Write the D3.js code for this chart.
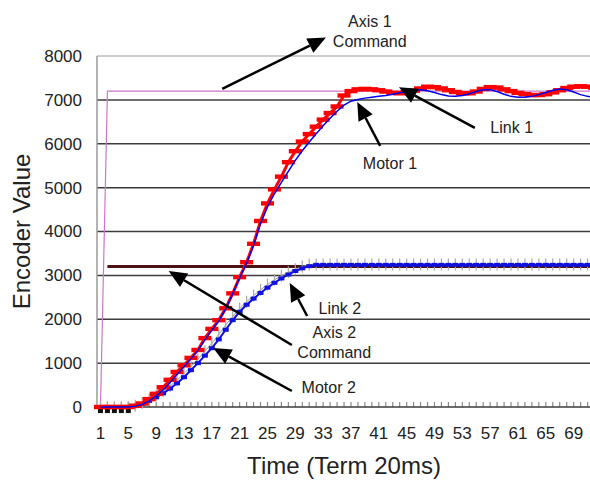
<!DOCTYPE html>
<html>
<head>
<meta charset="utf-8">
<script src="https://cdn.jsdelivr.net/npm/d3@7"></script>
<style>
  body { margin: 0; background: #fff; }
  text { font-family: "Liberation Sans", Arial, Helvetica, sans-serif; fill: #222; }
</style>
</head>
<body>
<div id="container"></div>
<script>
// categories along the bottom (Time, Term 20ms) - the chart runs past the right edge
const categories = d3.range(1, 73)
const yTicks = [0, 1000, 2000, 3000, 4000, 5000, 6000, 7000, 8000]

const axis1Command = [0, 7200, 7200, 7200, 7200, 7200, 7200, 7200, 7200, 7200,
    7200, 7200, 7200, 7200, 7200, 7200, 7200, 7200, 7200, 7200,
    7200, 7200, 7200, 7200, 7200, 7200, 7200, 7200, 7200, 7200,
    7200, 7200, 7200, 7200, 7200, 7200, 7200, 7200, 7200, 7200,
    7200, 7200, 7200, 7200, 7200, 7200, 7200, 7200, 7200, 7200,
    7200, 7200, 7200, 7200, 7200, 7200, 7200, 7200, 7200, 7200,
    7200, 7200, 7200, 7200, 7200, 7200, 7200, 7200, 7200, 7200,
    7200, 7200]

// first point of the axis 2 command is hidden behind axis 1
const axis2Command = [null, 3200, 3200, 3200, 3200, 3200, 3200, 3200, 3200, 3200,
    3200, 3200, 3200, 3200, 3200, 3200, 3200, 3200, 3200, 3200,
    3200, 3200, 3200, 3200, 3200, 3200, 3200, 3200, 3200, 3200,
    3200, 3200, 3200, 3200, 3200, 3200, 3200, 3200, 3200, 3200,
    3200, 3200, 3200, 3200, 3200, 3200, 3200, 3200, 3200, 3200,
    3200, 3200, 3200, 3200, 3200, 3200, 3200, 3200, 3200, 3200,
    3200, 3200, 3200, 3200, 3200, 3200, 3200, 3200, 3200, 3200,
    3200, 3200]

const link1 = [0, 0, 0, 0, 0, 30, 80, 180, 300, 450,
    620, 800, 950, 1120, 1300, 1570, 1780, 1980, 2250, 2590,
    2960, 3300, 3720, 4240, 4640, 4960, 5250, 5580, 5830, 6050,
    6220, 6390, 6550, 6700, 6850, 7100, 7200, 7240, 7250, 7240,
    7220, 7190, 7160, 7150, 7170, 7210, 7260, 7300, 7290, 7260,
    7220, 7180, 7150, 7150, 7190, 7250, 7290, 7280, 7240, 7200,
    7160, 7130, 7110, 7110, 7130, 7170, 7220, 7270, 7300, 7310,
    7300, 7280]

const motor1 = [0, 0, 0, 0, 0, 20, 60, 140, 250, 390,
    560, 740, 920, 1100, 1290, 1530, 1750, 1960, 2240, 2580,
    2940, 3280, 3680, 4180, 4560, 4860, 5120, 5370, 5620, 5840,
    6040, 6230, 6410, 6580, 6740, 6880, 6970, 7010, 7040, 7060,
    7080, 7100, 7130, 7160, 7190, 7220, 7230, 7210, 7170, 7120,
    7090, 7080, 7100, 7140, 7190, 7230, 7230, 7190, 7130, 7080,
    7060, 7060, 7080, 7120, 7170, 7220, 7250, 7230, 7180, 7120,
    7080, 7060]

const link2 = [0, 0, 0, 0, 0, 30, 90, 170, 260, 360,
    480, 610, 760, 920, 1090, 1270, 1450, 1650, 1870, 2060,
    2240, 2400, 2540, 2670, 2790, 2900, 2990, 3070, 3140, 3200,
    3240, 3250, 3250, 3250, 3250, 3250, 3250, 3250, 3250, 3250,
    3250, 3250, 3250, 3250, 3250, 3250, 3250, 3250, 3250, 3250,
    3250, 3250, 3250, 3250, 3250, 3250, 3250, 3250, 3250, 3250,
    3250, 3250, 3250, 3250, 3250, 3250, 3250, 3250, 3250, 3250,
    3250, 3250]

const motor2 = [0, 0, 0, 0, 0, 20, 70, 140, 220, 310,
    420, 540, 680, 840, 1000, 1170, 1340, 1540, 1760, 1980,
    2170, 2330, 2470, 2600, 2720, 2830, 2930, 3020, 3100, 3160,
    3210, 3240, 3240, 3240, 3240, 3240, 3240, 3240, 3240, 3240,
    3240, 3240, 3240, 3240, 3240, 3240, 3240, 3240, 3240, 3240,
    3240, 3240, 3240, 3240, 3240, 3240, 3240, 3240, 3240, 3240,
    3240, 3240, 3240, 3240, 3240, 3240, 3240, 3240, 3240, 3240,
    3240, 3240]

// the black square markers just under zero at the start
const startMarks = [-70, -70, -70, -70, -70]

// annotations: label position and arrow tail/tip, in (category, value)
const notes = [
    { lines: ["Axis 1", "Command"], at: [39.7, 8660], tail: [18.5, 7250], tip: [33.4, 8420] },
    { lines: ["Link 1"], at: [60.1, 6245], tail: [54.8, 6360], tip: [43.9, 7290] },
    { lines: ["Motor 1"], at: [42.6, 5425], tail: [41.2, 5950], tip: [37.9, 6950] },
    { lines: ["Link 2"], at: [35.4, 2120], tail: [30.7, 2075], tip: [28.2, 2825] },
    { lines: ["Axis 2", "Command"], at: [34.6, 1573], tail: [28.5, 1413], tip: [10.8, 3100] },
    { lines: ["Motor 2"], at: [33.8, 320], tail: [28.5, 365], tip: [17.2, 1345] }
]

const width = 590, height = 481
const margin = { top: 56, left: 97, bottom: 407, right: 598 }

const svg = d3.select("div#container").append("svg")
    .attr("width", width)
    .attr("height", height)

const x = d3.scaleBand().domain(categories).range([margin.left, margin.right])
const y = d3.scaleLinear().domain([0, 8000]).range([margin.bottom, margin.top])
const n = categories.length
// continuous version of the category scale, for annotations
const xc = d3.scaleLinear()
    .domain([1, n])
    .range([x(1) + x.bandwidth() / 2, x(n) + x.bandwidth() / 2])
const cx = (d, i) => x(categories[i]) + x.bandwidth() / 2

// gridlines
svg.append("g")
    .selectAll("line")
    .data(yTicks.filter(d => d > 0))
    .join("line")
    .attr("x1", margin.left)
    .attr("x2", margin.right)
    .attr("y1", d => y(d))
    .attr("y2", d => y(d))
    .attr("stroke", d => d === 8000 ? "#bdbdbd" : "#3c3c3c")
    .attr("stroke-width", 1.5)

// y axis
svg.append("line")
    .attr("x1", margin.left).attr("x2", margin.left)
    .attr("y1", margin.top).attr("y2", margin.bottom)
    .attr("stroke", "#9a9a9a")
    .attr("stroke-width", 1.5)

const yaxis = d3.axisLeft(y)
    .tickValues(yTicks)
    .tickFormat(d3.format("d"))
    .tickSize(0)
    .tickPadding(15)
svg.append("g")
    .attr("transform", "translate(" + margin.left + ",0)")
    .call(yaxis)
    .call(g => g.select(".domain").remove())
    .selectAll("text")
    .style("font-size", "17px")
    .attr("fill", "#222")

// x axis, ticks drawn inside the plot
const xaxis = d3.axisBottom(x)
    .tickSizeInner(-5)
    .tickSizeOuter(0)
    .tickPadding(20)
    .tickFormat((d, i) => i % 4 === 0 ? d : "")
svg.append("g")
    .attr("transform", "translate(0," + margin.bottom + ")")
    .call(xaxis)
    .call(g => g.select(".domain").remove())
    .call(g => g.selectAll(".tick line").attr("stroke", "#8a8a8a").attr("stroke-width", 1.2))
    .selectAll("text")
    .style("font-size", "17px")
    .attr("fill", "#222")

svg.append("line")
    .attr("x1", margin.left).attr("x2", margin.right)
    .attr("y1", y(0)).attr("y2", y(0))
    .attr("stroke", "#3c3c3c")
    .attr("stroke-width", 1.5)

const line = d3.line()
    .defined(d => d != null)
    .x(cx)
    .y(d => y(d))

// command lines
svg.append("path")
    .datum(axis2Command)
    .attr("fill", "none")
    .attr("stroke", "#4a1212")
    .attr("stroke-width", 3)
    .attr("d", line)

svg.append("path")
    .datum(axis1Command)
    .attr("fill", "none")
    .attr("stroke", "#cc77cc")
    .attr("stroke-width", 1.2)
    .attr("d", line)

// Link 2: grey with vertical tick markers
svg.append("path")
    .datum(link2)
    .attr("fill", "none")
    .attr("stroke", "#9a9a9a")
    .attr("stroke-width", 1)
    .attr("d", line)

svg.append("g")
    .selectAll("line")
    .data(link2)
    .join("line")
    .attr("x1", cx).attr("x2", cx)
    .attr("y1", d => y(d) - 6)
    .attr("y2", d => y(d) + 6)
    .attr("stroke", "#a8a8a8")
    .attr("stroke-width", 1.2)

// Motor 2: blue with small blue markers
svg.append("path")
    .datum(motor2)
    .attr("fill", "none")
    .attr("stroke", "#1010e0")
    .attr("stroke-width", 2)
    .attr("d", line)

svg.append("g")
    .selectAll("rect")
    .data(motor2)
    .join("rect")
    .attr("x", (d, i) => cx(d, i) - 3)
    .attr("y", d => y(d) - 2)
    .attr("width", 6)
    .attr("height", 4)
    .attr("fill", "#1010e0")

svg.append("g")
    .selectAll("rect")
    .data(startMarks)
    .join("rect")
    .attr("x", (d, i) => cx(d, i) - 2.5)
    .attr("y", d => y(d) - 3)
    .attr("width", 5)
    .attr("height", 6)
    .attr("fill", "#111")

// Link 1: red with dash markers
svg.append("path")
    .datum(link1)
    .attr("fill", "none")
    .attr("stroke", "#ff0000")
    .attr("stroke-width", 3)
    .attr("d", line)

svg.append("g")
    .selectAll("rect")
    .data(link1)
    .join("rect")
    .attr("x", (d, i) => cx(d, i) - 6.5)
    .attr("y", d => y(d) - 2.2)
    .attr("width", 13)
    .attr("height", 4.4)
    .attr("fill", "#ff0000")

// Motor 1: thin blue line on top
svg.append("path")
    .datum(motor1)
    .attr("fill", "none")
    .attr("stroke", "#0000ee")
    .attr("stroke-width", 1.5)
    .attr("d", line)

// annotations
const ann = svg.append("g")
notes.forEach(a => {
    const x0 = xc(a.tail[0]), y0 = y(a.tail[1])
    const x1 = xc(a.tip[0]), y1 = y(a.tip[1])
    const ang = Math.atan2(y1 - y0, x1 - x0)
    const len = 18, half = 8
    const bx = x1 - len * Math.cos(ang), by = y1 - len * Math.sin(ang)
    ann.append("line")
        .attr("x1", x0).attr("y1", y0)
        .attr("x2", bx).attr("y2", by)
        .attr("stroke", "#000")
        .attr("stroke-width", 2.5)
    ann.append("polygon")
        .attr("points", [
            [x1, y1],
            [bx + half * Math.sin(ang), by - half * Math.cos(ang)],
            [bx - half * Math.sin(ang), by + half * Math.cos(ang)]
        ].map(p => p.join(",")).join(" "))
        .attr("fill", "#000")
    a.lines.forEach((t, i) => {
        ann.append("text")
            .attr("x", xc(a.at[0]))
            .attr("y", y(a.at[1]) + i * 20)
            .attr("text-anchor", "middle")
            .style("font-size", "16px")
            .text(t)
    })
})

// axis titles
svg.append("text")
    .attr("text-anchor", "middle")
    .attr("transform", "translate(344,474)")
    .style("font-size", "24px")
    .text("Time (Term 20ms)")

svg.append("text")
    .attr("text-anchor", "middle")
    .attr("transform", "translate(30," + ((margin.top + margin.bottom) / 2) + ")rotate(-90)")
    .style("font-size", "24px")
    .text("Encoder Value")
</script>
</body>
</html>
